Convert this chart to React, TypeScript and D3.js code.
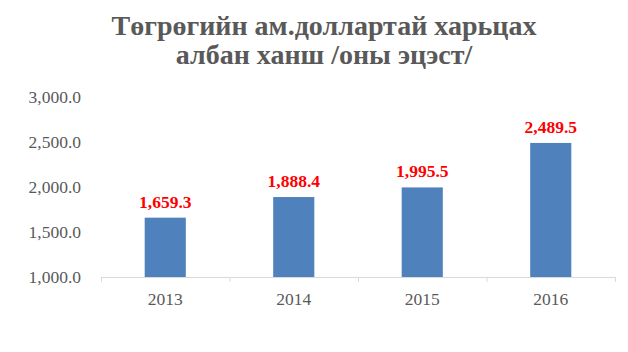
import React from "react";
import * as d3 from "d3";

const categories = ["2013", "2014", "2015", "2016"];
const values = [1659.3, 1888.4, 1995.5, 2489.5];
const yTicks = [1000, 1500, 2000, 2500, 3000];
const titleLines = ["Төгрөгийн ам.доллартай харьцах", "албан ханш /оны эцэст/"];

const W = 628;
const H = 352;
const plot = { left: 101, right: 615, top: 97, bottom: 277 };

export default function App() {
  const x = d3
    .scaleBand<string>()
    .domain(categories)
    .range([plot.left, plot.right])
    .paddingInner(0.68)
    .paddingOuter(0.34);
  const band = d3.scaleBand<string>().domain(categories).range([plot.left, plot.right]);
  const y = d3.scaleLinear().domain([1000, 3000]).range([plot.bottom, plot.top]);
  const fmt = d3.format(",.1f");
  const font = "'Liberation Serif', 'Times New Roman', serif";
  const edges = [...categories.map((c) => band(c)!), plot.right];
  const titleBaselines = [35, 64];

  return (
    <svg width={W} height={H} style={{ position: "absolute", left: 0, top: 0, background: "#fff" }}>
      {titleLines.map((t, i) => (
        <text
          key={i}
          x={324}
          y={titleBaselines[i]}
          textAnchor="middle"
          fontFamily={font}
          fontWeight="bold"
          fontSize={28}
          fill="#595959"
        >
          {t}
        </text>
      ))}
      {yTicks.map((t) => (
        <text
          key={t}
          x={81}
          y={y(t)}
          dy="0.35em"
          textAnchor="end"
          fontFamily={font}
          fontSize={17.5}
          fill="#595959"
        >
          {fmt(t)}
        </text>
      ))}
      {categories.map((c, i) => (
        <rect
          key={c}
          x={x(c)}
          y={y(values[i])}
          width={x.bandwidth()}
          height={y(1000) - y(values[i])}
          fill="#4F81BD"
        />
      ))}
      <line x1={plot.left} x2={plot.right} y1={plot.bottom + 0.5} y2={plot.bottom + 0.5} stroke="#D9D9D9" />
      {edges.map((e, i) => (
        <line key={i} x1={e + 0.5} x2={e + 0.5} y1={plot.bottom} y2={plot.bottom + 5} stroke="#D9D9D9" />
      ))}
      {categories.map((c) => (
        <text
          key={c}
          x={band(c)! + band.bandwidth() / 2}
          y={305}
          textAnchor="middle"
          fontFamily={font}
          fontSize={17.5}
          fill="#595959"
        >
          {c}
        </text>
      ))}
      {categories.map((c, i) => (
        <text
          key={c}
          x={x(c)! + x.bandwidth() / 2}
          y={y(values[i]) - 10}
          textAnchor="middle"
          fontFamily={font}
          fontWeight="bold"
          fontSize={17.5}
          fill="#FF0000"
        >
          {fmt(values[i])}
        </text>
      ))}
    </svg>
  );
}
